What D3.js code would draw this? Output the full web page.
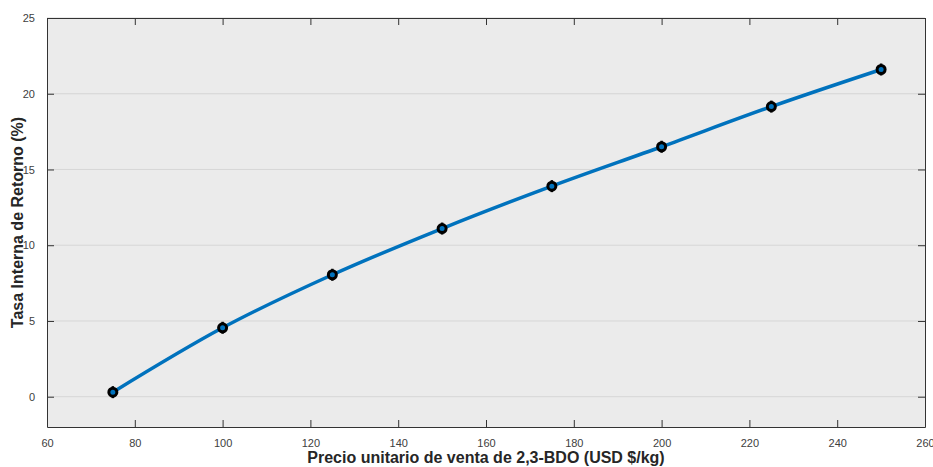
<!DOCTYPE html>
<html>
<head>
<meta charset="utf-8">
<script src="https://cdn.jsdelivr.net/npm/d3@7"></script>
<style>
  body { margin: 0; background: #fff; }
  svg { font-family: "Liberation Sans", Arial, sans-serif; }
</style>
</head>
<body>
<div class="chart"></div>
<script>
// data
const precios = [75, 100, 125, 150, 175, 200, 225, 250];
const tir = [0.3, 4.55, 8.05, 11.1, 13.9, 16.5, 19.15, 21.6];
const xTicks = [60, 80, 100, 120, 140, 160, 180, 200, 220, 240, 260];
const yTicks = [0, 5, 10, 15, 20, 25];

const width = 933;
const height = 467;
const margin = { top: 18, right: 8, bottom: 40, left: 47 };

const svg = d3.select(".chart").append("svg")
  .attr("width", width)
  .attr("height", height);

const x = d3.scaleLinear().domain([60, 260]).range([margin.left, width - margin.right]);
const y = d3.scaleLinear().domain([-2, 25]).range([height - margin.bottom, margin.top]);

// plot background
svg.append("rect")
  .attr("x", x(60)).attr("y", y(25))
  .attr("width", x(260) - x(60)).attr("height", y(-2) - y(25))
  .attr("fill", "#ebebeb");

// horizontal grid
svg.append("g")
  .selectAll("line")
  .data(yTicks)
  .join("line")
  .attr("x1", x(60)).attr("x2", x(260))
  .attr("y1", d => y(d)).attr("y2", d => y(d))
  .attr("stroke", "#d6d6d6")
  .attr("stroke-width", 1);

const tickLen = 7;
const axisColor = "#333";

// axes (box with ticks on all four sides)
const xBottom = svg.append("g")
  .attr("transform", `translate(0,${y(-2)})`)
  .call(d3.axisBottom(x).tickValues(xTicks).tickSizeInner(-tickLen).tickSizeOuter(0).tickPadding(12));
const xTop = svg.append("g")
  .attr("transform", `translate(0,${y(25)})`)
  .call(d3.axisTop(x).tickValues(xTicks).tickSizeInner(-tickLen).tickSizeOuter(0).tickFormat(""));
const yLeft = svg.append("g")
  .attr("transform", `translate(${x(60)},0)`)
  .call(d3.axisLeft(y).tickValues(yTicks).tickSizeInner(-tickLen).tickSizeOuter(0).tickPadding(12));
const yRight = svg.append("g")
  .attr("transform", `translate(${x(260)},0)`)
  .call(d3.axisRight(y).tickValues(yTicks).tickSizeInner(-tickLen).tickSizeOuter(0).tickFormat(""));

[xBottom, xTop, yLeft, yRight].forEach(g => {
  g.select(".domain").attr("stroke", axisColor).attr("stroke-width", 1);
  g.selectAll(".tick line").attr("stroke", axisColor);
  g.selectAll(".tick text")
    .attr("fill", "#404040")
    .style("font-size", "11px");
});

// curve
const line = d3.line()
  .x((d, i) => x(precios[i]))
  .y(d => y(d))
  .curve(d3.curveMonotoneX);

svg.append("path")
  .datum(tir)
  .attr("d", line)
  .attr("fill", "none")
  .attr("stroke", "#0072bd")
  .attr("stroke-width", 3.5);

// markers
const marks = svg.append("g")
  .selectAll("g")
  .data(tir)
  .join("g")
  .attr("transform", (d, i) => `translate(${x(precios[i])},${y(d)})`);

marks.append("line")
  .attr("x1", 0).attr("x2", 0).attr("y1", -6).attr("y2", 6)
  .attr("stroke", "#000").attr("stroke-width", 2.5);
marks.append("circle")
  .attr("r", 4)
  .attr("fill", "#0072bd")
  .attr("stroke", "#000")
  .attr("stroke-width", 3);

// axis labels
svg.append("text")
  .attr("x", (x(60) + x(260)) / 2)
  .attr("y", 463)
  .attr("text-anchor", "middle")
  .attr("font-weight", "bold")
  .attr("font-size", "16px")
  .attr("fill", "#262626")
  .text("Precio unitario de venta de 2,3-BDO (USD $/kg)");

svg.append("text")
  .attr("transform", `translate(23,${(y(25) + y(-2)) / 2}) rotate(-90)`)
  .attr("text-anchor", "middle")
  .attr("font-weight", "bold")
  .attr("font-size", "16px")
  .attr("fill", "#262626")
  .text("Tasa Interna de Retorno (%)");
</script>
</body>
</html>
